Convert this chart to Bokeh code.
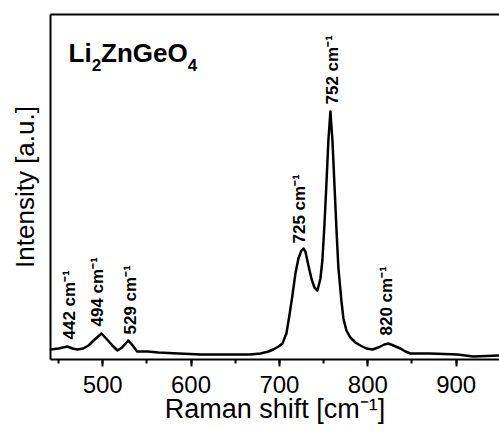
import math
from bokeh.plotting import figure
from bokeh.models import (ColumnDataSource, LinearAxis, FixedTicker,
                          SingleIntervalTicker, Label, Range1d)
from bokeh.core.properties import value
from bokeh.embed import file_html
from bokeh.resources import INLINE

# ---- data ----
shift = [441, 450, 460, 466, 471.5, 478, 484, 491, 498.7, 504, 511, 516.8, 522,
         529, 534, 539, 551, 563, 586, 611, 648, 667, 678.5, 687.6, 693, 699,
         703.4, 707.9, 711.3, 714.7, 718.1, 721.5, 724.9, 727.1, 729.4, 732.8,
         736.2, 739.6, 743.0, 746.4, 748.6, 750.9, 753.2, 755.4, 757.7, 760.0,
         762.2, 764.5, 766.7, 770.1, 772.4, 775.8, 780.3, 786.0, 791.6, 798.4,
         805.2, 812.0, 818.8, 823.3, 828.9, 836.9, 842.5, 848.2, 870.8, 901.3,
         919.4, 948.8]
intensity = [10, 11, 13, 11, 10, 11, 14, 20, 26, 21, 14, 9, 12,
             19, 14, 8, 8, 7, 6, 5, 5, 5, 6, 8, 10, 13,
             16, 26, 44, 64, 86, 101, 109, 111, 108, 94,
             81, 72, 69, 81, 99, 134, 176, 219, 248, 219,
             176, 131, 92, 59, 41, 29, 22, 17, 14, 11,
             10, 12, 15, 16, 14, 11, 8, 6, 6, 5,
             3, 4]

peak_text = ["442 cm\u207b\u00b9", "494 cm\u207b\u00b9", "529 cm\u207b\u00b9",
             "725 cm\u207b\u00b9", "752 cm\u207b\u00b9", "820 cm\u207b\u00b9"]
peak_x = [462, 494, 531, 723, 760, 821]
peak_y = [20, 33, 25, 116, 255, 24]

x_label = "Raman shift [cm\u207b\u00b9]"
y_label = "Intensity [a.u.]"
title_parts = ["Li", "2", "ZnGeO", "4"]

FONT = "Liberation Sans"

p = figure(width=499, height=432, x_range=Range1d(441, 949), y_range=Range1d(0, 345),
           output_backend="svg", toolbar_location=None,
           x_axis_location=None, y_axis_location=None,
           min_border_left=50, min_border_right=0, min_border_top=14,
           min_border_bottom=73)
p.outline_line_color = None
p.background_fill_color = "white"
p.border_fill_color = "white"
for g in p.grid:
    g.visible = False

xaxis = LinearAxis(ticker=SingleIntervalTicker(interval=100, num_minor_ticks=2),
                   axis_label=x_label)
xaxis.axis_line_width = 2
xaxis.major_tick_line_width = 2
xaxis.minor_tick_line_width = 2
xaxis.major_tick_out = 7
xaxis.major_tick_in = 0
xaxis.minor_tick_out = 4
xaxis.minor_tick_in = 0
xaxis.major_label_text_font = FONT
xaxis.major_label_text_font_size = "24px"
xaxis.major_label_text_color = "black"
xaxis.major_label_standoff = 9
xaxis.axis_label_text_font = FONT
xaxis.axis_label_text_font_size = "27px"
xaxis.axis_label_text_font_style = "normal"
xaxis.axis_label_text_color = "black"
xaxis.axis_label_standoff = -2
p.add_layout(xaxis, "below")

yaxis = LinearAxis(ticker=FixedTicker(ticks=[]), axis_label=y_label)
yaxis.axis_line_width = 2
yaxis.major_tick_out = 0
yaxis.minor_tick_out = 0
yaxis.major_label_standoff = 0
yaxis.major_label_text_font_size = "0px"
yaxis.axis_label_text_font = FONT
yaxis.axis_label_text_font_size = "26px"
yaxis.axis_label_text_font_style = "normal"
yaxis.axis_label_text_color = "black"
yaxis.axis_label_standoff = 11
p.add_layout(yaxis, "left")

top = LinearAxis(ticker=FixedTicker(ticks=[]))
top.axis_line_width = 2
top.major_tick_out = 0
top.minor_tick_out = 0
top.major_label_standoff = 0
top.major_label_text_font_size = "0px"
p.add_layout(top, "above")

src = ColumnDataSource(data=dict(x=shift, y=intensity))
p.line("x", "y", source=src, line_color="black", line_width=2.5, line_join="round")

lab_src = ColumnDataSource(data=dict(x=peak_x, y=peak_y, t=peak_text))
p.text("x", "y", text="t", source=lab_src, angle=math.pi / 2,
       text_align="left", text_baseline="middle",
       text_font=value(FONT), text_font_size="17px", text_font_style="bold",
       text_color="black")

# title with subscripts, laid out with Arial/Liberation Sans Bold metrics
widths = {"L": 0.611, "i": 0.278, "Z": 0.611, "n": 0.611, "G": 0.778,
          "e": 0.556, "O": 0.778, "2": 0.556, "4": 0.556}
big, small = 26, 17
tx, ty = 461.4, 307
off = 0
for k, part in enumerate(title_parts):
    sub = (k % 2 == 1)
    size = small if sub else big
    p.add_layout(Label(x=tx, y=ty, x_offset=off, y_offset=(-12 if sub else 0),
                       text=part, text_font=FONT, text_font_size=f"{size}px",
                       text_font_style="bold", text_color="black",
                       text_align="left", text_baseline="alphabetic"))
    off += sum(widths[c] for c in part) * size

open("out.html", "w").write(file_html(p, INLINE))
